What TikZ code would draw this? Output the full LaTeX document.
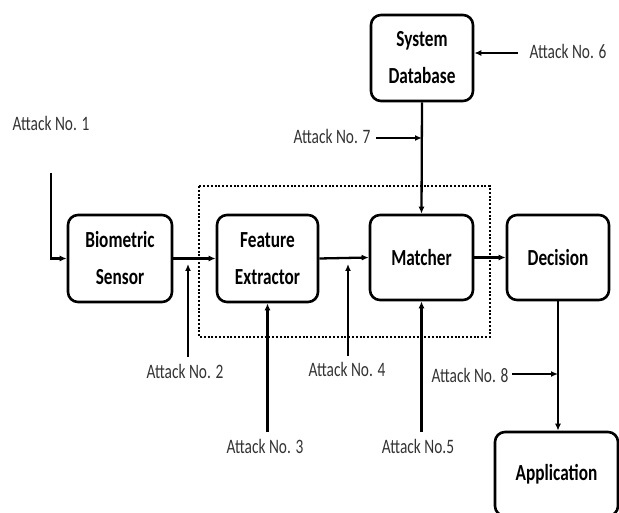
\documentclass[tikz,border=0pt]{standalone}
\usepackage{fontspec}
\setmainfont{Carlito}[FakeStretch=0.75]
\usetikzlibrary{arrows.meta}
\tikzset{
  blk/.style={draw, line width=2.6pt, rounded corners=10pt, inner sep=0pt, align=center,
    font=\fontsize{23}{37}\selectfont\bfseries},
  atk/.style={anchor=base, inner sep=0pt, text=black!80, font=\fontsize{20.5}{24}\selectfont},
  arr/.style={line width=2.3pt, -{Latex[length=7pt,width=6pt]}},
  grp/.style={line width=2.4pt, dash pattern=on 2pt off 1.8pt}
}
\begin{document}
\begin{tikzpicture}[x=1pt,y=-1pt]
\useasboundingbox (0,0) rectangle (619,513);
% dotted group
\draw[grp] (199,186) rectangle (490,337);
% blocks
\node[blk, minimum width=104pt, minimum height=87pt] (sensor) at (120,258.5) {Biometric\\Sensor};
\node[blk, minimum width=101pt, minimum height=87pt] (feat) at (267.5,258.5) {Feature\\Extractor};
\node[blk, minimum width=103pt, minimum height=85pt] (match) at (421.5,257.5) {Matcher};
\node[blk, minimum width=102pt, minimum height=85pt] (dec) at (558,257.5) {Decision};
\node[blk, minimum width=102pt, minimum height=86pt] (db) at (422,58) {System\\Database};
\node[blk, minimum width=123pt, minimum height=84pt] (app) at (556.5,474) {Application};
% labels
\node[atk] (l1) at (51,131) {Attack No. 1};
\node[atk] (l2) at (185,378) {Attack No. 2};
\node[atk] (l3) at (265,453) {Attack No. 3};
\node[atk] (l4) at (347,377) {Attack No. 4};
\node[atk] (l5) at (418,453) {Attack No.5};
\node[atk] (l6) at (568,59) {Attack No. 6};
\node[atk] (l7) at (332,144) {Attack No. 7};
\node[atk] (l8) at (470,382) {Attack No. 8};
% attack points
\coordinate (a1) at (51,173);
\coordinate (a2) at (188,357);
\coordinate (a2t) at (188,264);
\coordinate (a4) at (348,356);
\coordinate (a4t) at (348,264);
\coordinate (a6) at (518,53);
\coordinate (a7) at (376,138);
\coordinate (a8) at (512,374);
% main flow
\draw[arr] (sensor.east) -- (feat.west);
\draw[arr] (feat.east) -- (match.west);
\draw[arr] (match.east) -- (dec.west);
\draw[arr] (db.south) -- (match.north);
\draw[arr] (dec.south) -- (dec.south |- app.north);
% attacks
\draw[arr] (a1) |- (sensor.west);
\draw[arr] (a2) -- (a2t);
\draw[arr] (feat.south |- 0,432) -- (feat.south);
\draw[arr] (a4) -- (a4t);
\draw[arr] (match.south |- 0,432) -- (match.south);
\draw[arr] (a6) -- (a6 -| db.east);
\draw[arr] (a7) -- (a7 -| db.south);
\draw[arr] (a8) -- (a8 -| dec.south);
\end{tikzpicture}
\end{document}
